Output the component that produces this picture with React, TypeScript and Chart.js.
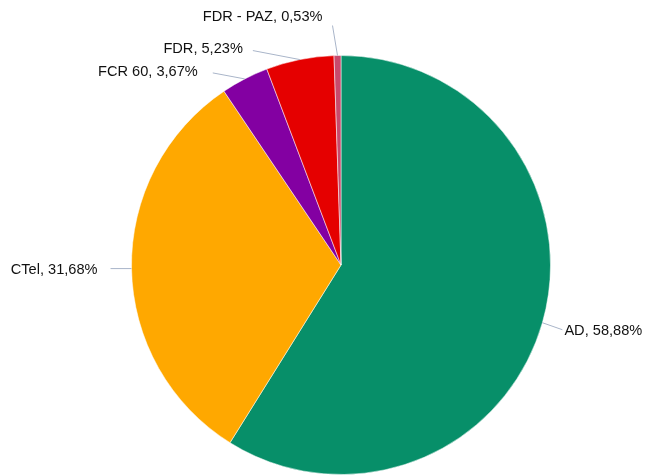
import React, { useEffect, useRef } from "react";
import { Chart, registerables } from "chart.js";

Chart.register(...registerables);

const categories = ["AD", "CTel", "FCR 60", "FDR", "FDR - PAZ"];
const shares = [58.88, 31.68, 3.67, 5.23, 0.53];
const colors = ["#078F69", "#FFA800", "#8300A2", "#E50000", "#C84A6C"];

// leader line end offset from slice edge, and text anchor offset from line end
const labelLayout = [
  { line: [20, 7], text: [2, 1], align: "left" },
  { line: [-21, 0], text: [-13, 1], align: "right" },
  { line: [-32, -6], text: [-15, -1], align: "right" },
  { line: [-47, -9], text: [-10, -2], align: "right" },
  { line: [-5, -30], text: [-10, -9], align: "right" },
];

const fmt = (v: number) => v.toFixed(2).replace(".", ",");

const labelPlugin = {
  id: "outLabels",
  afterDatasetsDraw(chart: any) {
    const ctx = chart.ctx;
    const meta = chart.getDatasetMeta(0);
    ctx.save();
    ctx.font = '14.6px "Liberation Sans", Arial, sans-serif';
    ctx.textBaseline = "middle";
    meta.data.forEach((arc: any, i: number) => {
      const { x, y, startAngle, endAngle, outerRadius } = arc.getProps(
        ["x", "y", "startAngle", "endAngle", "outerRadius"],
        true
      );
      const mid = (startAngle + endAngle) / 2;
      const ex = x + Math.cos(mid) * outerRadius;
      const ey = y + Math.sin(mid) * outerRadius;
      const lay = labelLayout[i];
      const lx = ex + lay.line[0];
      const ly = ey + lay.line[1];
      ctx.strokeStyle = "#A9B5C9";
      ctx.lineWidth = 1;
      ctx.beginPath();
      ctx.moveTo(ex, ey);
      ctx.lineTo(lx, ly);
      ctx.stroke();
      ctx.fillStyle = "#111111";
      ctx.textAlign = lay.align;
      ctx.fillText(
        `${categories[i]}, ${fmt(shares[i])}%`,
        lx + lay.text[0],
        ly + lay.text[1]
      );
    });
    ctx.restore();
  },
};

export default function App() {
  const ref = useRef<HTMLCanvasElement>(null);
  useEffect(() => {
    if (!ref.current) return;
    const chart = new Chart(ref.current, {
      type: "pie",
      data: {
        labels: categories,
        datasets: [
          {
            data: shares,
            backgroundColor: colors,
            borderColor: "rgba(255,255,255,0.5)",
            borderWidth: 1,
          },
        ],
      },
      options: {
        responsive: false,
        animation: false,
        layout: { padding: { left: 131, right: 99, top: 55, bottom: 1 } },
        plugins: {
          legend: { display: false },
          tooltip: { enabled: false },
        },
      },
      plugins: [labelPlugin],
    });
    return () => chart.destroy();
  }, []);
  return (
    <div style={{ position: "absolute", left: 0, top: 0, width: 650, height: 476, background: "#fff" }}>
      <canvas ref={ref} width={650} height={476} />
    </div>
  );
}
